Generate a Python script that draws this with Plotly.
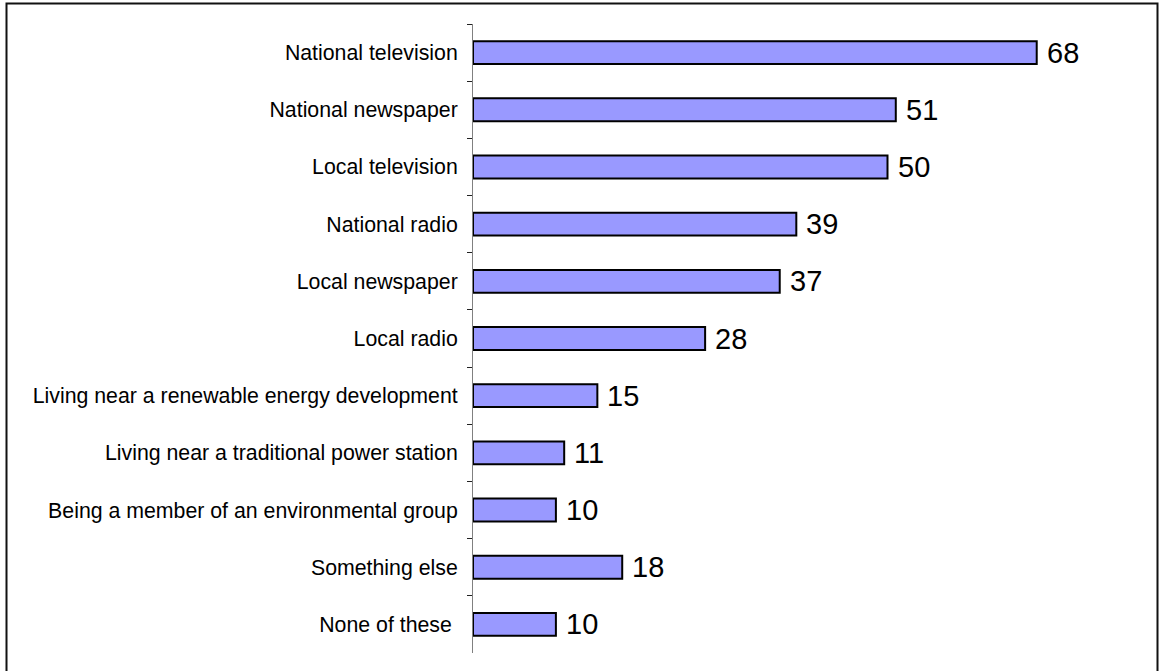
import plotly.graph_objects as go

# Sources of information about energy (% of respondents)
sources = [
    "National television",
    "National newspaper",
    "Local television",
    "National radio",
    "Local newspaper",
    "Local radio",
    "Living near a renewable energy development",
    "Living near a traditional power station",
    "Being a member of an environmental group",
    "Something else",
    "None of these ",
]
percent = [68, 51, 50, 39, 37, 28, 15, 11, 10, 18, 10]

W, H = 1161, 671
ML, MR, MT, MB = 473, 21, 24, 18
plot_w = W - ML - MR
plot_h = H - MT - MB

fig = go.Figure(
    go.Bar(
        x=percent,
        y=sources,
        orientation="h",
        width=0.4,
        marker=dict(color="#9999FF", line=dict(color="#000000", width=2)),
        hoverinfo="x+y",
    )
)

# value labels to the right of each bar
for s, v in zip(sources, percent):
    fig.add_annotation(
        x=v, y=s, text=str(v), showarrow=False,
        xanchor="left", yanchor="middle", xshift=8,
        font=dict(family="Liberation Sans, Arial, sans-serif", size=29, color="#000000"),
    )

# frame around the whole chart
def px_x(p):
    return (p - ML) / plot_w

def px_y(p):
    return 1 - (p - MT) / plot_h

fig.add_shape(
    type="rect", xref="paper", yref="paper",
    x0=px_x(6.5), x1=px_x(1157.5), y0=px_y(690), y1=px_y(3.5),
    line=dict(color="#111111", width=2), fillcolor="rgba(0,0,0,0)", layer="above",
)

fig.update_layout(
    width=W, height=H,
    margin=dict(l=ML, r=MR, t=MT, b=MB, pad=0),
    paper_bgcolor="white", plot_bgcolor="white",
    showlegend=False,
    font=dict(family="Liberation Sans, Arial, sans-serif", size=21.3, color="#000000"),
    xaxis=dict(range=[0, plot_w / 8.29], visible=False, fixedrange=True),
    yaxis=dict(
        type="category",
        autorange="reversed",
        range=[10.5, -0.5],
        tickson="boundaries",
        ticks="outside", ticklen=5, tickwidth=1, tickcolor="#222222",
        showline=True, linecolor="#808080", linewidth=1,
        showgrid=False, zeroline=False,
        ticklabelstandoff=10,
        tickfont=dict(size=21.3, color="#000000"),
        fixedrange=True,
    ),
)

fig.write_html("out.html")
